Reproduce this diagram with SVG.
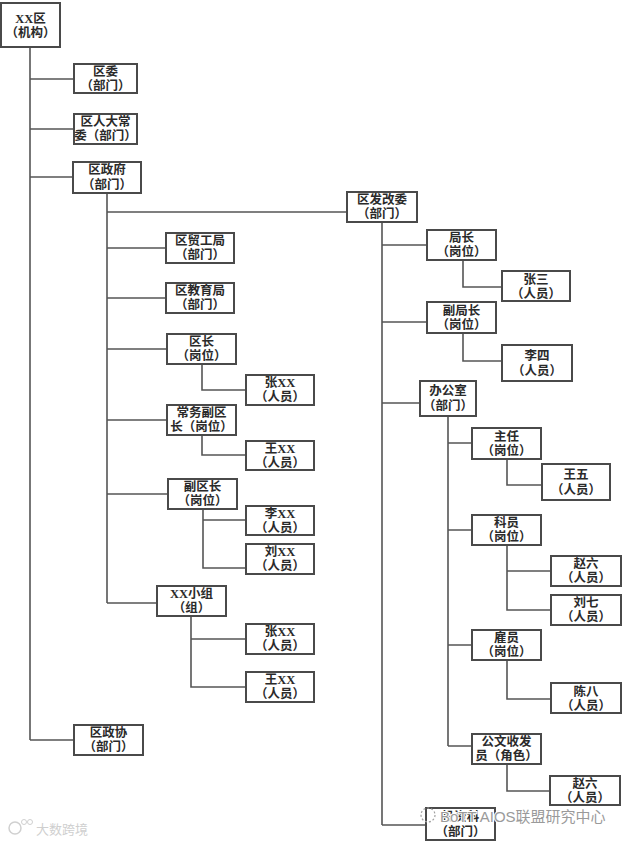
<svg xmlns="http://www.w3.org/2000/svg" width="622" height="842" viewBox="0 0 622 842">
<style>
.b rect{fill:#fff;stroke:#4a4a4a;stroke-width:2}
.b text{font-family:"Liberation Serif","Noto Sans CJK SC",serif;font-size:12.5px;font-weight:bold;fill:#2a2a2a;text-anchor:middle}
#conn path{fill:none;stroke:#555;stroke-width:1.6}
.wm{font-family:"Liberation Sans","Noto Sans CJK SC",sans-serif}
</style>
<rect width="622" height="842" fill="#fff"/>
<g id="conn">
<path d="M30,47V740M30,79H74M30,129H74M30,177H73M30,740H74"/>
<path d="M107,193V603M107,212H347M107,248H166M107,298H166M107,349H167M107,420H167M107,494H168M107,603H157"/>
<path d="M202,364V390H246M202,435V455H246M203,509V568H246M203,520H246M191,616V687H246M191,639H246"/>
<path d="M382,222V825M382,245H427M382,322H427M382,403H420M382,825H426"/>
<path d="M463,260V287H502M463,333V361H502"/>
<path d="M448,416V746M448,443H472M448,530H472M448,645H472M448,746H472"/>
<path d="M507,459V485H542M507,545V610H551M507,571H551M507,660V699H551M507,764V791H550"/>
</g>
<g class="b" id="n_xxq"><rect x="1" y="3" width="59" height="44"/><text x="30.5" y="23">XX区</text><text x="30.5" y="37">（机构）</text></g>
<g class="b" id="n_quwei"><rect x="74" y="64" width="63" height="29"/><text x="105.5" y="76">区委</text><text x="105.5" y="90">（部门）</text></g>
<g class="b" id="n_renda"><rect x="74" y="114" width="63" height="30"/><text x="105.5" y="126">区人大常</text><text x="105.5" y="140">委（部门）</text></g>
<g class="b" id="n_zhengfu"><rect x="73" y="162" width="68" height="31"/><text x="107" y="174">区政府</text><text x="107" y="189">（部门）</text></g>
<g class="b" id="n_zhengxie"><rect x="74" y="725" width="69" height="30"/><text x="108.5" y="737">区政协</text><text x="108.5" y="751">（部门）</text></g>
<g class="b" id="n_maogong"><rect x="166" y="233" width="68" height="30"/><text x="200" y="245">区贸工局</text><text x="200" y="259">（部门）</text></g>
<g class="b" id="n_jiaoyu"><rect x="166" y="283" width="68" height="30"/><text x="200" y="295">区教育局</text><text x="200" y="309">（部门）</text></g>
<g class="b" id="n_quzhang"><rect x="167" y="334" width="69" height="30"/><text x="201.5" y="346">区长</text><text x="201.5" y="360">（岗位）</text></g>
<g class="b" id="n_zhang1"><rect x="246" y="375" width="68" height="30"/><text x="280" y="387">张XX</text><text x="280" y="401">（人员）</text></g>
<g class="b" id="n_changwu"><rect x="167" y="405" width="69" height="30"/><text x="201.5" y="417">常务副区</text><text x="201.5" y="431">长（岗位）</text></g>
<g class="b" id="n_wang1"><rect x="246" y="441" width="68" height="29"/><text x="280" y="453">王XX</text><text x="280" y="467">（人员）</text></g>
<g class="b" id="n_fuquzhang"><rect x="168" y="479" width="69" height="30"/><text x="202.5" y="491">副区长</text><text x="202.5" y="505">（岗位）</text></g>
<g class="b" id="n_li"><rect x="246" y="506" width="68" height="29"/><text x="280" y="518">李XX</text><text x="280" y="532">（人员）</text></g>
<g class="b" id="n_liu"><rect x="246" y="544" width="68" height="30"/><text x="280" y="556">刘XX</text><text x="280" y="570">（人员）</text></g>
<g class="b" id="n_xiaozu"><rect x="157" y="586" width="69" height="30"/><text x="191.5" y="598">XX小组</text><text x="191.5" y="612">（组）</text></g>
<g class="b" id="n_zhang2"><rect x="246" y="624" width="68" height="30"/><text x="280" y="636">张XX</text><text x="280" y="650">（人员）</text></g>
<g class="b" id="n_wang2"><rect x="246" y="672" width="68" height="30"/><text x="280" y="684">王XX</text><text x="280" y="698">（人员）</text></g>
<g class="b" id="n_fagaiwei"><rect x="347" y="192" width="70" height="30"/><text x="382" y="204">区发改委</text><text x="382" y="218">（部门）</text></g>
<g class="b" id="n_juzhang"><rect x="427" y="230" width="69" height="30"/><text x="461.5" y="242">局长</text><text x="461.5" y="256">（岗位）</text></g>
<g class="b" id="n_zhangsan"><rect x="502" y="271" width="68" height="30"/><text x="536" y="284">张三</text><text x="536" y="298">（人员）</text></g>
<g class="b" id="n_fujuzhang"><rect x="427" y="302" width="69" height="31"/><text x="461.5" y="315">副局长</text><text x="461.5" y="329">（岗位）</text></g>
<g class="b" id="n_lisi"><rect x="502" y="345" width="70" height="36"/><text x="537" y="360">李四</text><text x="537" y="375">（人员）</text></g>
<g class="b" id="n_bangongshi"><rect x="420" y="381" width="56" height="35"/><text x="448" y="395">办公室</text><text x="448" y="410">（部门）</text></g>
<g class="b" id="n_zhuren"><rect x="472" y="428" width="69" height="31"/><text x="506.5" y="441">主任</text><text x="506.5" y="455">（岗位）</text></g>
<g class="b" id="n_wangwu"><rect x="542" y="464" width="68" height="36"/><text x="576" y="479">王五</text><text x="576" y="494">（人员）</text></g>
<g class="b" id="n_keyuan"><rect x="472" y="515" width="69" height="30"/><text x="506.5" y="527">科员</text><text x="506.5" y="541">（岗位）</text></g>
<g class="b" id="n_zhaoliu1"><rect x="551" y="556" width="70" height="30"/><text x="586" y="568">赵六</text><text x="586" y="582">（人员）</text></g>
<g class="b" id="n_liuqi"><rect x="551" y="595" width="70" height="30"/><text x="586" y="607">刘七</text><text x="586" y="621">（人员）</text></g>
<g class="b" id="n_guyuan"><rect x="472" y="630" width="69" height="30"/><text x="506.5" y="642">雇员</text><text x="506.5" y="656">（岗位）</text></g>
<g class="b" id="n_chenba"><rect x="551" y="683" width="70" height="30"/><text x="586" y="696">陈八</text><text x="586" y="710">（人员）</text></g>
<g class="b" id="n_gongwen"><rect x="472" y="734" width="69" height="30"/><text x="506.5" y="746">公文收发</text><text x="506.5" y="760">员（角色）</text></g>
<g class="b" id="n_zhaoliu2"><rect x="550" y="776" width="70" height="29"/><text x="585" y="788">赵六</text><text x="585" y="802">（人员）</text></g>
<g class="b" id="n_touzike"><rect x="426" y="808" width="69" height="32"/><text x="460.5" y="821">投资科</text><text x="460.5" y="836">（部门）</text></g>
<g id="watermarks">
<circle cx="15" cy="828" r="6" fill="none" stroke="#d0d0d0" stroke-width="1.5"/>
<circle cx="24" cy="822" r="2.5" fill="none" stroke="#d0d0d0" stroke-width="1"/>
<circle cx="30" cy="822" r="2.5" fill="none" stroke="#d0d0d0" stroke-width="1"/>
<text class="wm" x="36" y="834" font-size="13" fill="#cfcfcf">大数跨境</text>
<circle cx="428" cy="815" r="7" fill="none" stroke="#a0a0a0" stroke-width="1.2" stroke-dasharray="2 2"/>
<text class="wm" x="440" y="822" font-size="15" fill="#9a9a9a" stroke="#fff" stroke-width="2" paint-order="stroke">BoTT AIOS联盟研究中心</text>
</g>
</svg>
